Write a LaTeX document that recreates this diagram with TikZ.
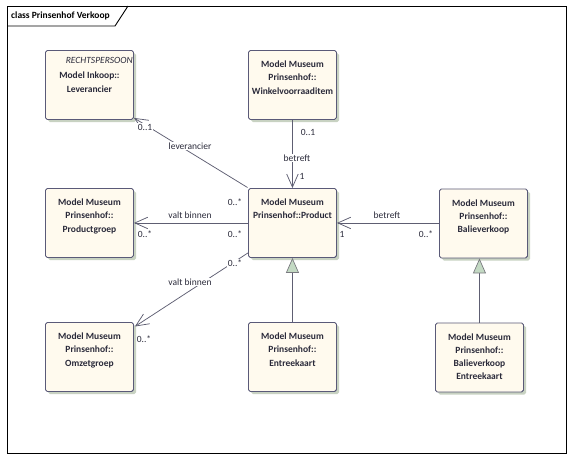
\documentclass[tikz,border=0pt]{standalone}
\usepackage{fontspec}
\setmainfont{Carlito}
\usetikzlibrary{arrows.meta,shadows}
\definecolor{boxfill}{HTML}{FFFAEE}
\definecolor{boxline}{HTML}{5A5A78}
\definecolor{shadowcol}{HTML}{C8D2C2}
\definecolor{linecol}{HTML}{5E5E72}
\definecolor{genfill}{HTML}{C3D9C3}
\definecolor{gencol}{HTML}{7A7A80}
\definecolor{txtcol}{HTML}{2A2A3A}
\tikzset{
  x=1pt, y=-1pt,
  cls/.style={draw=boxline, fill=boxfill, rounded corners=1.8pt, line width=0.9pt,
    minimum width=88pt, minimum height=69pt, inner sep=0pt, anchor=north west,
    drop shadow={shadow xshift=2.6pt, shadow yshift=-2.6pt, fill=shadowcol, opacity=1}},
  clstext/.style={anchor=north, inner sep=0pt, align=center, text=txtcol,
    font=\fontsize{9.5}{13.3}\selectfont\bfseries},
  lbl/.style={inner sep=0.8pt, text=txtcol, font=\fontsize{9.5}{11}\selectfont},
  lblw/.style={lbl, fill=white},
  assoc/.style={draw=linecol, line width=0.75pt,
    -{Straight Barb[length=13pt,width=11.5pt,line width=0.75pt]}},
  gen/.style={draw=linecol, line width=0.9pt,
    -{Triangle[length=15pt,width=13pt,fill=genfill,color=gencol,line width=0.7pt]}},
}
\begin{document}
\begin{tikzpicture}
\useasboundingbox (0,0) rectangle (572,459);
% frame
\draw[line width=0.9pt] (7,6) rectangle (566,453);
\draw[line width=0.9pt] (7,26) -- (115,26) -- (128,6);
\node[anchor=west, inner sep=0pt, font=\fontsize{9.5}{11}\selectfont\bfseries] (title) at (11,16) {class Prinsenhof Verkoop};

% boxes
\node[cls] (l) at (45,50) {};
\node[cls] (w) at (248,50) {};
\node[cls] (p) at (248,188) {};
\node[cls] (g) at (45,188) {};
\node[cls] (b) at (439,188.5) {};
\node[cls] (o) at (45,322) {};
\node[cls] (e) at (248,322) {};
\node[cls] (be) at (435,322.5) {};

% box texts
\node[anchor=east, inner sep=0pt, text=txtcol, font=\fontsize{9.5}{11}\selectfont\itshape] (lst) at ([xshift=-1pt,yshift=-10pt]l.north east) {RECHTSPERSOON};
\node[clstext] (lt) at ([yshift=-22pt]l.north) {Model Inkoop::\\Leverancier};
\node[clstext] (wt) at ([yshift=-10.7pt]w.north) {Model Museum\\Prinsenhof::\\Winkelvoorraaditem};
\node[clstext] (pt) at ([yshift=-10.7pt]p.north) {Model Museum\\Prinsenhof::Product};
\node[clstext] (gt) at ([yshift=-10.7pt]g.north) {Model Museum\\Prinsenhof::\\Productgroep};
\node[clstext] (bt) at ([yshift=-10.7pt]b.north) {Model Museum\\Prinsenhof::\\Balieverkoop};
\node[clstext] (ot) at ([yshift=-10.7pt]o.north) {Model Museum\\Prinsenhof::\\Omzetgroep};
\node[clstext] (et) at ([yshift=-10.7pt]e.north) {Model Museum\\Prinsenhof::\\Entreekaart};
\node[clstext] (bet) at ([yshift=-10.7pt]be.north) {Model Museum\\Prinsenhof::\\Balieverkoop\\Entreekaart};

% associations
\draw[assoc] ([xshift=-0.5pt,yshift=0.5pt]p.north west) -- ([yshift=2pt]l.south east);
\draw[assoc] (w.south) -- (p.north);
\draw[assoc] (p.west) -- (g.east);
\draw[assoc] (b.west |- p.east) -- (p.east);
\draw[assoc] ([yshift=5pt]p.south west) -- ([xshift=1pt,yshift=-4.5pt]o.north east);

% generalizations
\draw[gen] (e.north) -- (p.south);
\draw[gen] (be.north) -- (be.north |- b.south);

% labels
\node[lblw] (m1) at (145,127) {0..1};
\node[lblw] (r1) at (190,146) {leverancier};
\node[lbl] (m2) at (235,202) {0..*};
\node[lbl] (m3) at (308,132) {0..1};
\node[lblw] (r2) at (297,158) {betreft};
\node[lbl] (m4) at (302,176) {1};
\node[lbl] (r3) at (190,215) {valt binnen};
\node[lbl] (m5) at (145,234) {0..*};
\node[lbl] (m6) at (235,234) {0..*};
\node[lbl] (r4) at (387,215) {betreft};
\node[lbl] (m7) at (342,234) {1};
\node[lbl] (m8) at (426,234) {0..*};
\node[lblw] (m9) at (235,263) {0..*};
\node[lblw] (r5) at (190,282) {valt binnen};
\node[lbl] (m10) at (144,339) {0..*};
\end{tikzpicture}
\end{document}
